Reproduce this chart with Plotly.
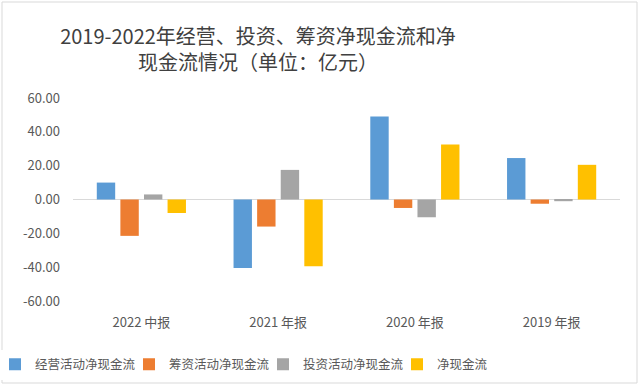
import plotly.graph_objects as go

categories = ["2022 中报", "2021 年报", "2020 年报", "2019 年报"]
series_names = ["经营活动净现金流", "筹资活动净现金流", "投资活动净现金流", "净现金流"]
operating = [10.0, -40.5, 49.0, 24.5]
financing = [-21.5, -16.0, -5.0, -2.5]
investing = [3.0, 17.5, -10.5, -1.0]
net = [-8.0, -39.5, 32.5, 20.5]
colors = ["#5B9BD5", "#ED7D31", "#A5A5A5", "#FFC000"]
y_ticks = [-60, -40, -20, 0, 20, 40, 60]
y_tick_labels = ["-60.00", "-40.00", "-20.00", "0.00", "20.00", "40.00", "60.00"]

W, H = 640, 385
ml, mr, mt, mb = 73, 20, 98, 84

fig = go.Figure()
for name, vals, c in zip(series_names, [operating, financing, investing, net], colors):
    fig.add_trace(go.Bar(x=categories, y=vals, name=name, marker_color=c,
                         marker_line_width=0))

pw = W - ml - mr
ph = H - mt - mb
fig.add_shape(type="rect", xref="paper", yref="paper",
              x0=(2 - ml) / pw, x1=(W - 3 - ml) / pw,
              y0=-(H - 2 - mt - ph) / ph, y1=1 + (mt - 2) / ph,
              line=dict(color="#D9D9D9", width=1), layer="below")

fig.update_layout(
    width=W, height=H,
    margin=dict(l=ml, r=mr, t=mt, b=mb, autoexpand=False),
    paper_bgcolor="white", plot_bgcolor="white",
    font=dict(family="Noto Sans CJK SC", color="#595959", size=13),
    title=dict(text="2019-2022年经营、投资、筹资净现金流和净<br>现金流情况（单位：亿元）",
               xref="container", yref="container",
               x=258 / W, xanchor="center", y=1 - 44 / H, yanchor="middle",
               font=dict(size=20, color="#404040")),
    barmode="group", bargap=0.31, bargroupgap=0.22,
    xaxis=dict(showgrid=False, showline=False, ticks="", tickfont=dict(size=13),
               ticklabelstandoff=12, tickangle=0),
    yaxis=dict(range=[-60, 60], tickvals=y_ticks, ticktext=y_tick_labels,
               showgrid=False, zeroline=True, zerolinecolor="#D9D9D9",
               zerolinewidth=1, ticks="", showline=False, tickfont=dict(size=13),
               ticklabelstandoff=12),
    legend=dict(orientation="h", x=(263 - ml) / pw, xanchor="center",
                y=-0.24, yanchor="top",
                font=dict(size=12.5), itemwidth=30, tracegroupgap=0,
                entrywidth=89, entrywidthmode="pixels"),
    showlegend=True,
)

fig.write_html("out.html", config={"displayModeBar": False})
with open("out.html", encoding="utf-8") as f:
    html = f.read()
html = html.replace("<head>", "<head><style>html,body{margin:0;padding:0;overflow:hidden;}</style>", 1)
with open("out.html", "w", encoding="utf-8") as f:
    f.write(html)
